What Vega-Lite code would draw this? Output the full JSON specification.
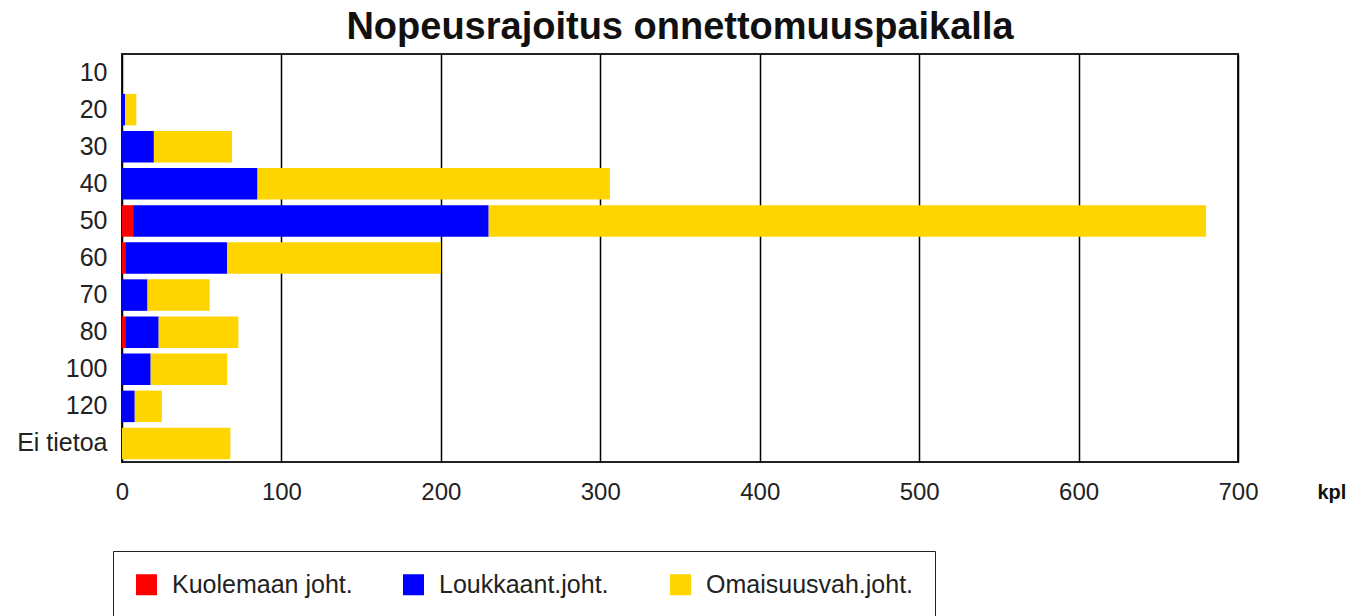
{
  "$schema": "https://vega.github.io/schema/vega-lite/v6.json",
  "autosize": "none",
  "width": 1116,
  "height": 408,
  "padding": {"left": 122, "top": 54, "right": 120, "bottom": 154},
  "background": "white",
  "title": {
    "text": "Nopeusrajoitus onnettomuuspaikalla",
    "font": "Liberation Sans",
    "fontSize": 38,
    "fontWeight": "bold",
    "color": "#111111",
    "anchor": "middle",
    "offset": 7
  },
  "data": {
    "values": [
      {"nopeus": "10", "tyyppi": "Kuolemaan joht.", "jarjestys": 1, "kpl": 0},
      {"nopeus": "10", "tyyppi": "Loukkaant.joht.", "jarjestys": 2, "kpl": 0},
      {"nopeus": "10", "tyyppi": "Omaisuusvah.joht.", "jarjestys": 3, "kpl": 0},
      {"nopeus": "20", "tyyppi": "Kuolemaan joht.", "jarjestys": 1, "kpl": 0},
      {"nopeus": "20", "tyyppi": "Loukkaant.joht.", "jarjestys": 2, "kpl": 2},
      {"nopeus": "20", "tyyppi": "Omaisuusvah.joht.", "jarjestys": 3, "kpl": 7},
      {"nopeus": "30", "tyyppi": "Kuolemaan joht.", "jarjestys": 1, "kpl": 0},
      {"nopeus": "30", "tyyppi": "Loukkaant.joht.", "jarjestys": 2, "kpl": 20},
      {"nopeus": "30", "tyyppi": "Omaisuusvah.joht.", "jarjestys": 3, "kpl": 49},
      {"nopeus": "40", "tyyppi": "Kuolemaan joht.", "jarjestys": 1, "kpl": 0},
      {"nopeus": "40", "tyyppi": "Loukkaant.joht.", "jarjestys": 2, "kpl": 85},
      {"nopeus": "40", "tyyppi": "Omaisuusvah.joht.", "jarjestys": 3, "kpl": 221},
      {"nopeus": "50", "tyyppi": "Kuolemaan joht.", "jarjestys": 1, "kpl": 7},
      {"nopeus": "50", "tyyppi": "Loukkaant.joht.", "jarjestys": 2, "kpl": 223},
      {"nopeus": "50", "tyyppi": "Omaisuusvah.joht.", "jarjestys": 3, "kpl": 450},
      {"nopeus": "60", "tyyppi": "Kuolemaan joht.", "jarjestys": 1, "kpl": 2},
      {"nopeus": "60", "tyyppi": "Loukkaant.joht.", "jarjestys": 2, "kpl": 64},
      {"nopeus": "60", "tyyppi": "Omaisuusvah.joht.", "jarjestys": 3, "kpl": 134},
      {"nopeus": "70", "tyyppi": "Kuolemaan joht.", "jarjestys": 1, "kpl": 0},
      {"nopeus": "70", "tyyppi": "Loukkaant.joht.", "jarjestys": 2, "kpl": 16},
      {"nopeus": "70", "tyyppi": "Omaisuusvah.joht.", "jarjestys": 3, "kpl": 39},
      {"nopeus": "80", "tyyppi": "Kuolemaan joht.", "jarjestys": 1, "kpl": 2},
      {"nopeus": "80", "tyyppi": "Loukkaant.joht.", "jarjestys": 2, "kpl": 21},
      {"nopeus": "80", "tyyppi": "Omaisuusvah.joht.", "jarjestys": 3, "kpl": 50},
      {"nopeus": "100", "tyyppi": "Kuolemaan joht.", "jarjestys": 1, "kpl": 0},
      {"nopeus": "100", "tyyppi": "Loukkaant.joht.", "jarjestys": 2, "kpl": 18},
      {"nopeus": "100", "tyyppi": "Omaisuusvah.joht.", "jarjestys": 3, "kpl": 48},
      {"nopeus": "120", "tyyppi": "Kuolemaan joht.", "jarjestys": 1, "kpl": 0},
      {"nopeus": "120", "tyyppi": "Loukkaant.joht.", "jarjestys": 2, "kpl": 8},
      {"nopeus": "120", "tyyppi": "Omaisuusvah.joht.", "jarjestys": 3, "kpl": 17},
      {"nopeus": "Ei tietoa", "tyyppi": "Kuolemaan joht.", "jarjestys": 1, "kpl": 0},
      {"nopeus": "Ei tietoa", "tyyppi": "Loukkaant.joht.", "jarjestys": 2, "kpl": 0},
      {"nopeus": "Ei tietoa", "tyyppi": "Omaisuusvah.joht.", "jarjestys": 3, "kpl": 68}
    ]
  },
  "mark": {"type": "bar"},
  "encoding": {
    "y": {
      "field": "nopeus",
      "type": "nominal",
      "sort": ["10", "20", "30", "40", "50", "60", "70", "80", "100", "120", "Ei tietoa"],
      "scale": {"paddingInner": 0.15, "paddingOuter": 0.075},
      "axis": {
        "title": null,
        "ticks": false,
        "domain": false,
        "labelPadding": 15,
        "labelFont": "Liberation Sans",
        "labelFontSize": 25,
        "labelColor": "#222222"
      }
    },
    "x": {
      "field": "kpl",
      "type": "quantitative",
      "stack": "zero",
      "scale": {"domain": [0, 700], "nice": false},
      "axis": {
        "values": [0, 100, 200, 300, 400, 500, 600, 700],
        "grid": true,
        "gridColor": "#000000",
        "gridWidth": 1.5,
        "gridOpacity": 1,
        "ticks": false,
        "domain": false,
        "labelPadding": 18,
        "labelFont": "Liberation Sans",
        "labelFontSize": 24,
        "labelColor": "#222222",
        "labelFlush": false,
        "title": "kpl",
        "titleFont": "Liberation Sans",
        "titleFontSize": 20,
        "titleFontWeight": "bold",
        "titleColor": "#111111",
        "titleAlign": "left",
        "titleBaseline": "middle",
        "titleX": 1195,
        "titleY": 30
      }
    },
    "color": {
      "field": "tyyppi",
      "type": "nominal",
      "scale": {
        "domain": ["Kuolemaan joht.", "Loukkaant.joht.", "Omaisuusvah.joht."],
        "range": ["#FF0000", "#0000FF", "#FFD500"]
      },
      "legend": {
        "title": null,
        "orient": "none",
        "legendX": -9,
        "legendY": 497,
        "direction": "horizontal",
        "columns": 3,
        "gridAlign": "all",
        "columnPadding": 21,
        "padding": 21,
        "strokeColor": "#222222",
        "fillColor": "white",
        "symbolType": "square",
        "symbolSize": 441,
        "symbolStrokeWidth": 0,
        "symbolOpacity": 1,
        "labelFont": "Liberation Sans",
        "labelFontSize": 25,
        "labelColor": "#222222",
        "labelOffset": 13,
        "labelLimit": 400
      }
    },
    "order": {"field": "jarjestys", "type": "quantitative"}
  },
  "config": {
    "view": {"stroke": "#222222", "strokeWidth": 2}
  }
}
